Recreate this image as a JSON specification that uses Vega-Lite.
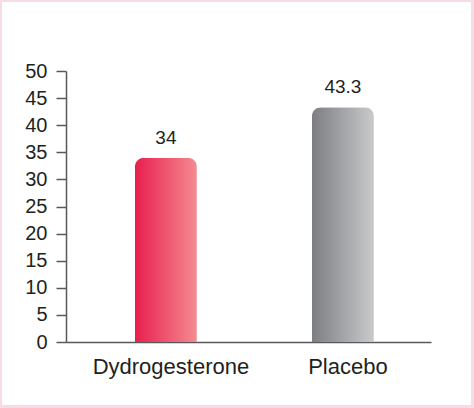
{
  "$schema": "https://vega.github.io/schema/vega-lite/v6.json",
  "width": 469,
  "height": 403,
  "autosize": {"type": "none"},
  "padding": {"left": 2, "top": 2, "right": 3, "bottom": 3},
  "background": "#f9dbe6",
  "data": {
    "values": [
      {"group": "Dydrogesterone", "value": 34, "label": "34"},
      {"group": "Placebo", "value": 43.3, "label": "43.3"}
    ]
  },
  "encoding": {
    "x": {
      "field": "group",
      "type": "nominal",
      "sort": null,
      "title": null,
      "scale": {"range": [64, 429], "paddingInner": 0.65, "paddingOuter": 0.356, "align": 0.547},
      "axis": {
        "orient": "bottom",
        "offset": -63,
        "labelAngle": 0,
        "ticks": false,
        "labelFontSize": 22,
        "labelColor": "#231f20",
        "labelPadding": 14,
        "labelOffset": 5,
        "domainColor": "#58595b",
        "domainWidth": 1.5
      }
    },
    "y": {
      "field": "value",
      "type": "quantitative",
      "title": null,
      "scale": {"domain": [0, 50], "range": [340, 69]},
      "axis": {
        "offset": -64,
        "values": [0, 5, 10, 15, 20, 25, 30, 35, 40, 45, 50],
        "grid": false,
        "tickSize": 10,
        "tickColor": "#58595b",
        "tickWidth": 1.5,
        "domainColor": "#58595b",
        "domainWidth": 1.5,
        "labelFontSize": 20,
        "labelColor": "#231f20",
        "labelPadding": 9
      }
    }
  },
  "layer": [
    {
      "mark": {"type": "bar", "cornerRadiusTopLeft": 9, "cornerRadiusTopRight": 9},
      "encoding": {
        "fill": {
          "condition": {
            "test": "datum.group === 'Placebo'",
            "value": {
              "gradient": "linear", "x1": 0, "y1": 0, "x2": 1, "y2": 0,
              "stops": [{"offset": 0, "color": "#7d7e82"}, {"offset": 1, "color": "#c9cacc"}]
            }
          },
          "value": {
            "gradient": "linear", "x1": 0, "y1": 0, "x2": 1, "y2": 0,
            "stops": [{"offset": 0, "color": "#e81f4e"}, {"offset": 1, "color": "#f48b91"}]
          }
        }
      }
    },
    {
      "mark": {"type": "text", "baseline": "alphabetic", "dy": -14, "fontSize": 19, "color": "#231f20"},
      "encoding": {
        "text": {"field": "label"}
      }
    }
  ],
  "config": {
    "font": "Liberation Sans",
    "view": {"fill": "white", "stroke": null}
  }
}
